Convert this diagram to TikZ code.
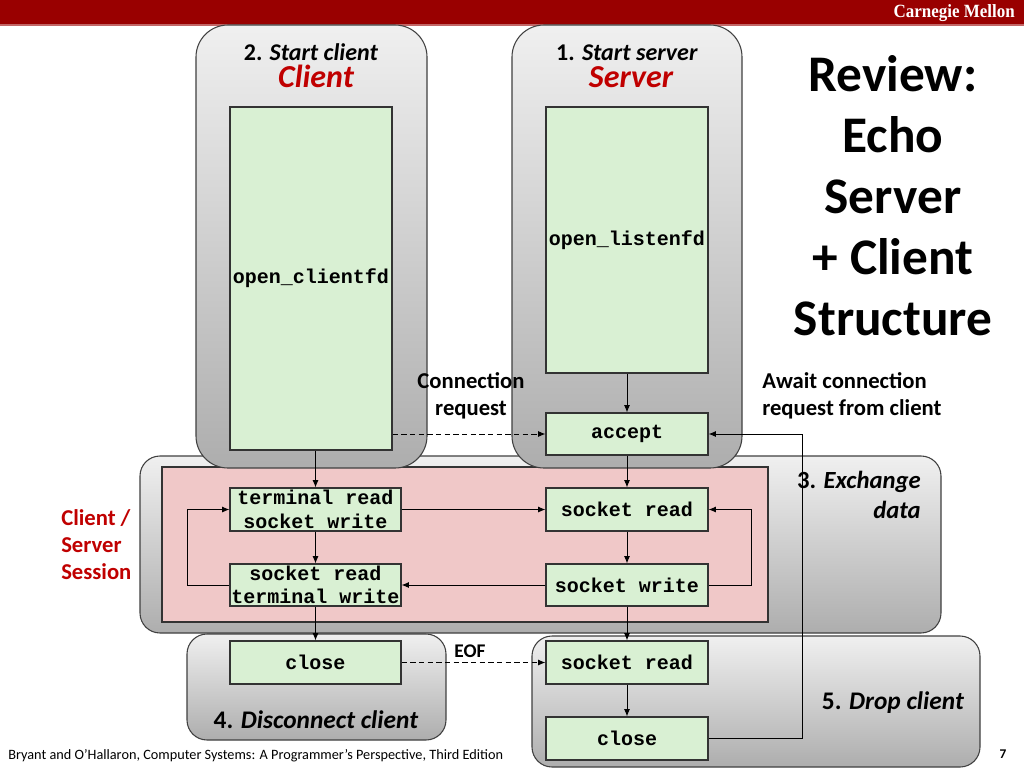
\documentclass[tikz,border=0pt]{standalone}
\usepackage{fontspec}
\setmainfont{Carlito}
\setmonofont{Liberation Mono}
\newfontfamily\cmufont{Liberation Serif}
\usetikzlibrary{arrows.meta,calc}
\definecolor{cmured}{RGB}{153,0,0}
\definecolor{txtred}{RGB}{192,0,0}
\definecolor{gfill}{RGB}{217,240,211}
\definecolor{pfill}{RGB}{240,200,200}
\tikzset{
  graybox/.style={draw=black!75, line width=0.8pt, top color=black!6, bottom color=black!32},
  gbox/.style={draw=black!80, line width=0.8pt, fill=gfill, inner sep=0pt, font=\ttfamily\bfseries\fontsize{15}{17.5}\selectfont, align=center},
  arr/.style={-{Latex[length=5.5pt,width=4.5pt]}, line width=0.75pt, black},
  darr/.style={arr, dashed, dash pattern=on 4pt off 2.5pt},
  lbl/.style={font=\bfseries\fontsize{15}{20}\selectfont, align=center, inner sep=0pt}
}
\begin{document}
\begin{tikzpicture}[x=0.75pt,y=-0.75pt]
\useasboundingbox (0,0) rectangle (1024,768);
\fill[white] (0,0) rectangle (1024,768);
% top bar
\fill[cmured] (0,0) rectangle (1024,24);
\fill[cmured!60] (0,24) rectangle (1024,25.5);
\node[text=white, font=\cmufont\bfseries\fontsize{14}{15}\selectfont, xscale=0.91, anchor=east, inner sep=0pt] (cmu) at (1015,13) {Carnegie Mellon};

% exchange box
\draw[graybox, rounded corners=15pt] (140,456) rectangle (941,633);
\fill[pfill] (162,467) rectangle (768,622);
\draw[black!80, line width=0.8pt] (162,467) rectangle (768,622);
% client and server boxes
\draw[graybox, rounded corners=24pt] (196,25) rectangle (427,468);
\draw[graybox, rounded corners=24pt] (512,25) rectangle (742,468);
% disconnect and drop
\draw[graybox, rounded corners=15pt] (187,634) rectangle (446,740);
\draw[graybox, rounded corners=15pt] (532,636) rectangle (980,767);

% green boxes
\node[gbox, minimum width=121.5pt, minimum height=257.25pt] (cbig) at (311,278.5) {open\_clientfd};
\node[gbox, minimum width=121.5pt, minimum height=199.5pt] (sbig) at (627,240) {open\_listenfd};
\node[gbox, minimum width=121.5pt, minimum height=31.5pt] (acc) at (627,434) {accept};
\node[gbox, minimum width=128.25pt, minimum height=32.25pt] (trsw) at (315.5,509.5) {terminal read\\socket write};
\node[gbox, minimum width=121.5pt, minimum height=32.25pt] (ssr) at (627,509.5) {socket read};
\node[gbox, minimum width=128.25pt, minimum height=31.5pt] (srtw) at (315.5,585) {socket read\\terminal write};
\node[gbox, minimum width=121.5pt, minimum height=31.5pt] (ssw) at (627,585) {socket write};
\node[gbox, minimum width=128.25pt, minimum height=32.25pt] (cclose) at (315.5,662.5) {close};
\node[gbox, minimum width=121.5pt, minimum height=32.25pt] (dsr) at (627,662.5) {socket read};
\node[gbox, minimum width=121.5pt, minimum height=32.25pt] (dclose) at (627,738.5) {close};

% coordinates for routing
\coordinate (lloop) at (187,0);
\coordinate (rloop) at (751,0);
\coordinate (back) at (802,0);

% arrows
\draw[arr] (sbig.south) -- (acc.north);
\draw[darr] (cbig.east |- acc.west) -- (acc.west);
\draw[arr] (cbig.south -| trsw.north) -- (trsw.north);
\draw[arr] (acc.south) -- (ssr.north);
\draw[arr] (trsw.east) -- (ssr.west);
\draw[arr] (trsw.south) -- (srtw.north);
\draw[arr] (ssr.south) -- (ssw.north);
\draw[arr] (ssw.west) -- (srtw.east);
\draw[arr] (srtw.west) -- (lloop |- srtw.west) -- (lloop |- trsw.west) -- (trsw.west);
\draw[arr] (ssw.east) -- (rloop |- ssw.east) -- (rloop |- ssr.east) -- (ssr.east);
\draw[arr] (srtw.south) -- (cclose.north);
\draw[arr] (ssw.south) -- (dsr.north);
\draw[darr] (cclose.east) -- (dsr.west);
\draw[arr] (dsr.south) -- (dclose.north);
\draw[arr] (dclose.east) -- (back |- dclose.east) -- (back |- acc.east) -- (acc.east);

% labels
\node[lbl, anchor=base, font=\bfseries\fontsize{18}{20}\selectfont] (t2) at (311,60) {2. \textit{Start client}};
\node[lbl, anchor=base, text=txtred, font=\bfseries\itshape\fontsize{24}{26}\selectfont] (tc) at (316,87) {Client};
\node[lbl, anchor=base, font=\bfseries\fontsize{18}{20}\selectfont] (t1) at (627,60) {1. \textit{Start server}};
\node[lbl, anchor=base, text=txtred, font=\bfseries\itshape\fontsize{24}{26}\selectfont] (ts) at (631,87) {Server};
\node[lbl, font=\bfseries\fontsize{38.5}{45.75}\selectfont] (title) at (893,196) {Review:\\Echo\\Server\\+ Client\\Structure};
\node[lbl, font=\bfseries\fontsize{17}{20.25}\selectfont] (conn) at (471,396) {Connection\\request};
\node[lbl, anchor=west, align=left, font=\bfseries\fontsize{17}{20.25}\selectfont] (await) at (762,396) {Await connection\\request from client};
\node[lbl, anchor=east, align=right, font=\bfseries\fontsize{18.5}{23}\selectfont] (exch) at (921,495) {3. \textit{Exchange}\\\textit{data}};
\node[lbl, anchor=west, align=left, text=txtred, font=\bfseries\fontsize{17}{20.25}\selectfont] (sess) at (61,545) {Client /\\Server\\Session};
\node[lbl, font=\bfseries\fontsize{14.5}{16}\selectfont] (eof) at (470,651) {EOF};
\node[lbl, font=\bfseries\fontsize{19}{21}\selectfont] (t4) at (316,720) {4. \textit{Disconnect client}};
\node[lbl, font=\bfseries\fontsize{19}{21}\selectfont] (t5) at (893,703) {5. \textit{Drop client}};
\node[anchor=west, inner sep=0pt, font=\fontsize{10.7}{12}\selectfont] (foot) at (8,756) {Bryant and O’Hallaron, Computer Systems: A Programmer’s Perspective, Third Edition};
\node[inner sep=0pt, font=\bfseries\fontsize{10}{11}\selectfont] (pg) at (1003,754) {7};
\end{tikzpicture}
\end{document}
